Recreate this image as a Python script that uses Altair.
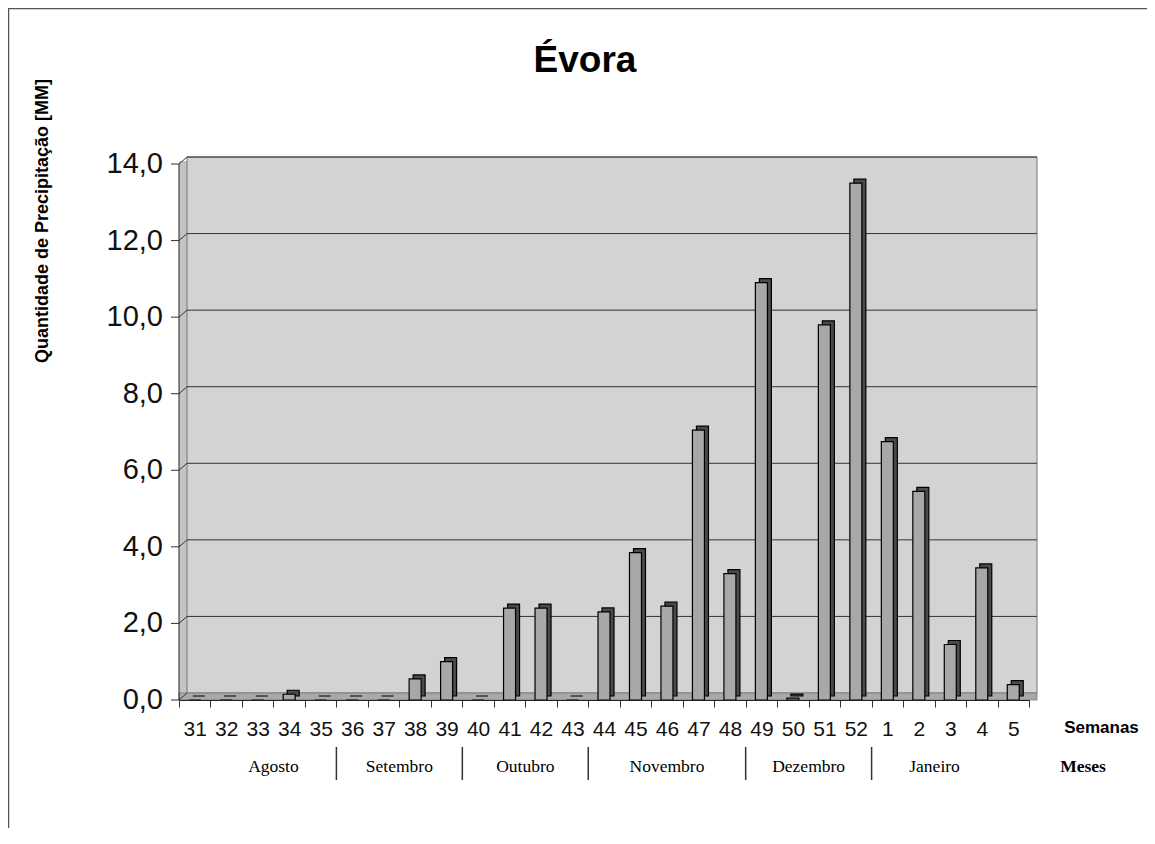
import altair as alt
import pandas as pd

# ---------------- data ----------------
weeks = ["31", "32", "33", "34", "35", "36", "37", "38", "39", "40", "41", "42",
         "43", "44", "45", "46", "47", "48", "49", "50", "51", "52",
         "1", "2", "3", "4", "5"]
precip = [0.0, 0.0, 0.0, 0.15, 0.0, 0.0, 0.0, 0.55, 1.0, 0.0, 2.4, 2.4,
          0.0, 2.3, 3.85, 2.45, 7.05, 3.3, 10.9, 0.05, 9.8, 13.5,
          6.75, 5.45, 1.45, 3.45, 0.4]
months = ["Agosto", "Setembro", "Outubro", "Novembro", "Dezembro", "Janeiro"]
month_first = ["32", "36", "40", "44", "49", "1"]
month_last = ["35", "39", "43", "48", "52", "4"]
y_ticks = [0, 2, 4, 6, 8, 10, 12, 14]

# ---------------- layout ----------------
W, H = 850, 536
DX, DY = 8, 7
SANS = "Liberation Sans, Arial, sans-serif"
SERIF = "Liberation Serif, Times New Roman, serif"

df = pd.DataFrame({"week": weeks, "mm": precip})
idx = {w: i for i, w in enumerate(weeks)}
mdf = pd.DataFrame({
    "month": months,
    "start": [idx[w] for w in month_first],
    "end": [idx[w] + 1 for w in month_last],
})
mdf["mid"] = (mdf["start"] + mdf["end"]) / 2
sep_df = mdf.iloc[:-1]
tick_df = pd.DataFrame({"v": y_ticks})
grid_df = pd.DataFrame({"v": y_ticks[1:]})
one = alt.Data(values=[{"a": 1}])

yscale = alt.Scale(domain=[0, 14], nice=False, zero=True)
xband = alt.Scale(domain=weeks, paddingInner=0, paddingOuter=0)
xlin = alt.Scale(domain=[0, len(weeks)], nice=False, zero=False)

frame = alt.Chart(one).mark_rect(fill="white", fillOpacity=0, stroke="#555", strokeWidth=1.5).encode(
    x=alt.value(-170.5), x2=alt.value(W + 300), y=alt.value(-155.5), y2=alt.value(H + 300))

side_wall = alt.Chart(one).mark_rect(fill="#c4c4c4").encode(
    x=alt.value(0), x2=alt.value(DX), y=alt.value(-3), y2=alt.value(H - 3))

wall = alt.Chart(one).mark_rect(fill="#d3d3d3", stroke="#777", strokeWidth=1).encode(
    x=alt.value(DX), x2=alt.value(W + DX), y=alt.value(-DY), y2=alt.value(H - DY))

floor = alt.Chart(one).mark_rect(fill="#a9a9a9", stroke="#777", strokeWidth=0.8).encode(
    x=alt.value(0), x2=alt.value(W + DX), y=alt.value(H - DY), y2=alt.value(H))

grid = alt.Chart(grid_df).mark_rule(color="#333", strokeWidth=1, yOffset=-DY).encode(
    y=alt.Y("v:Q", scale=yscale, axis=None), x=alt.value(DX), x2=alt.value(W + DX))

diag = alt.Chart(tick_df).mark_rule(color="#333", strokeWidth=1, y2Offset=-DY).encode(
    y=alt.Y("v:Q", scale=yscale, axis=None), y2="v:Q", x=alt.value(0), x2=alt.value(DX))

# manual y axis (front plane)
y_domain = alt.Chart(one).mark_rule(color="#222", strokeWidth=1).encode(
    x=alt.value(0), y=alt.value(0), y2=alt.value(H))
y_tick = alt.Chart(tick_df).mark_rule(color="#333", strokeWidth=1).encode(
    y=alt.Y("v:Q", scale=yscale, axis=None), x=alt.value(-8), x2=alt.value(0))
y_lab = alt.Chart(tick_df).transform_calculate(
    lab="replace(format(datum.v, '.1f'), '.', ',')"
).mark_text(font=SANS, fontSize=29, align="right", baseline="middle", color="#111").encode(
    y=alt.Y("v:Q", scale=yscale, axis=None), x=alt.value(-16), text="lab:N")
y_title = alt.Chart(one).mark_text(font=SANS, fontSize=18, fontWeight="bold", angle=270,
                                   align="center", baseline="middle", color="black").encode(
    x=alt.value(-136), y=alt.value(57), text=alt.value("Quantidade de Precipitação [MM]"))

title = alt.Chart(one).mark_text(font=SANS, fontSize=37, fontWeight="bold", align="center",
                                 baseline="alphabetic", color="black").encode(
    x=alt.value(406), y=alt.value(-92), text=alt.value("Évora"))

shadow = alt.Chart(df).mark_bar(width=12, xOffset=4, yOffset=-4, y2Offset=-4,
                                fill="#4a4a4a", stroke="black", strokeWidth=1.2).encode(
    x=alt.X("week:N", scale=xband, sort=weeks, axis=None),
    y=alt.Y("mm:Q", scale=yscale, axis=None))

front = alt.Chart(df).mark_bar(width=12, fill="#a8a8a8", stroke="black", strokeWidth=1.2).encode(
    x=alt.X("week:N", scale=xband, sort=weeks,
            axis=alt.Axis(title="Semanas", titleX=922, titleY=32, titleAlign="center",
                          titleBaseline="alphabetic", titleFont=SANS, titleFontSize=17,
                          titleFontWeight="bold", titleColor="black",
                          labelFont=SANS, labelFontSize=21, labelColor="#111", labelAngle=0,
                          labelPadding=11, labelOverlap=False, tickSize=7, tickBand="extent",
                          tickColor="#333", domainColor="#222", grid=False, zindex=1)),
    y=alt.Y("mm:Q", scale=yscale, axis=None))

seps = alt.Chart(sep_df).mark_rule(color="#333", strokeWidth=1.5).encode(
    x=alt.X("end:Q", scale=xlin, axis=None), y=alt.value(583), y2=alt.value(616))

month_text = alt.Chart(mdf).mark_text(font=SERIF, fontSize=17.5, align="center",
                                      baseline="alphabetic", color="black").encode(
    x=alt.X("mid:Q", scale=xlin, axis=None), y=alt.value(608), text="month:N")

meses = alt.Chart(one).mark_text(font=SERIF, fontSize=17.5, fontWeight="bold", align="center",
                                 baseline="alphabetic", color="black").encode(
    x=alt.value(904), y=alt.value(608), text=alt.value("Meses"))

chart = alt.layer(
    frame, side_wall, wall, floor, grid, diag, shadow, front,
    y_domain, y_tick, y_lab, y_title, title, seps, month_text, meses
).resolve_scale(x="independent").properties(
    width=W, height=H,
    autosize=alt.AutoSizeParams(type="none"),
    padding={"left": 171, "top": 156, "right": 118, "bottom": 128},
).configure_view(stroke=None).configure(background="white")

chart.save("out.html", embed_options={"renderer": "svg", "actions": False})
